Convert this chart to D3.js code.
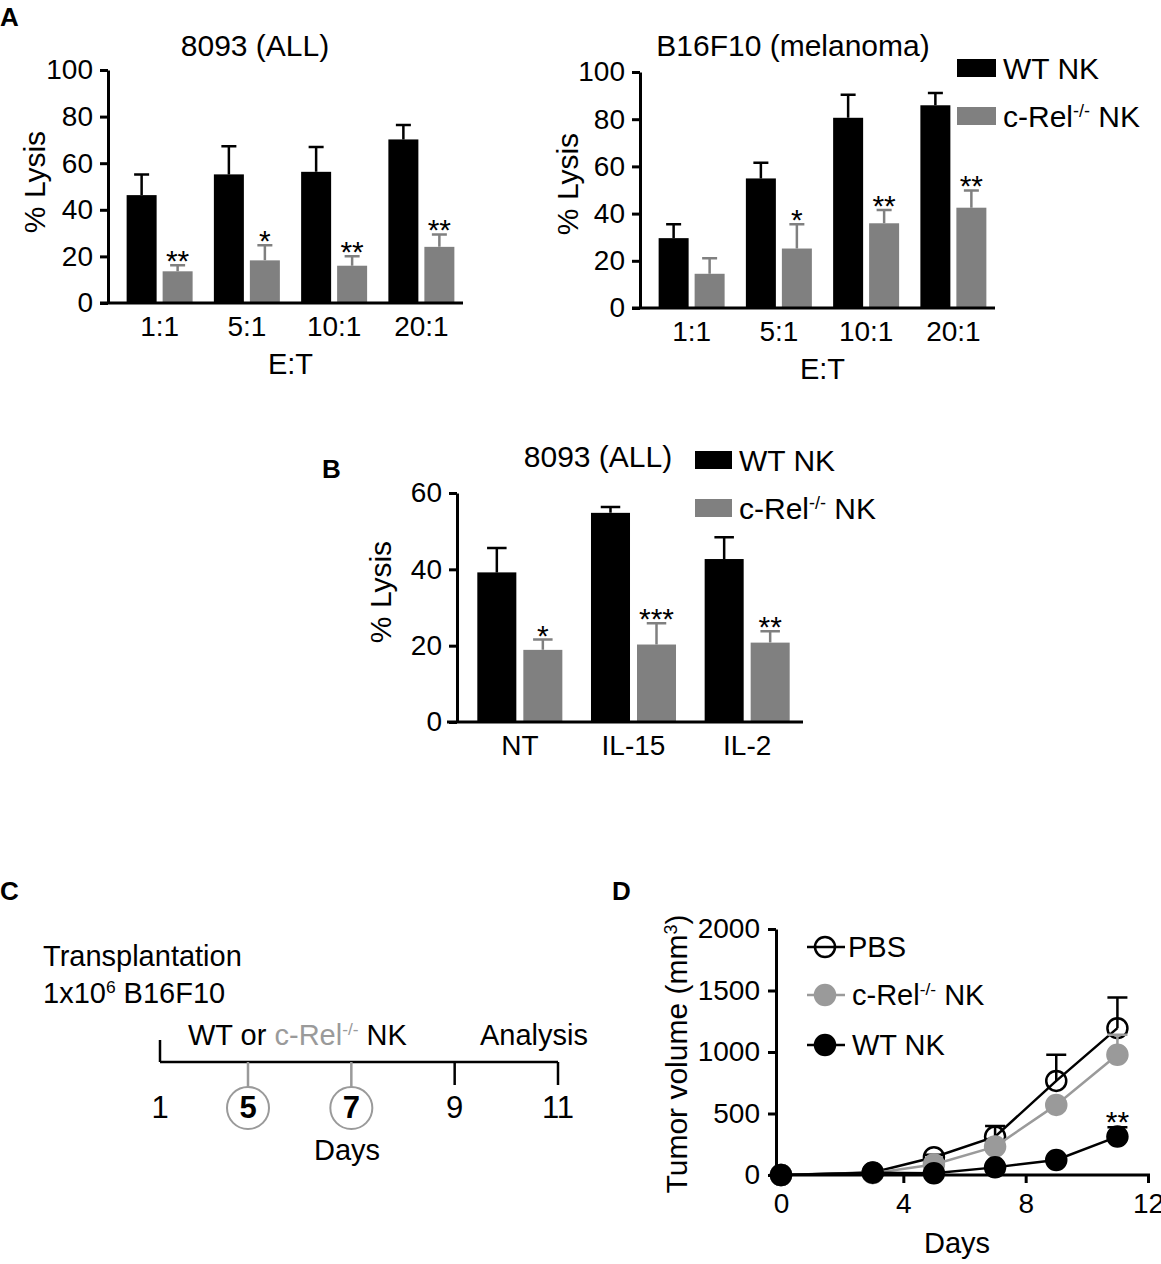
<!DOCTYPE html>
<html>
<head>
<meta charset="utf-8">
<script src="https://cdn.jsdelivr.net/npm/d3@7"></script>
<style>
  body { margin: 0; background: #fff; }
  svg text { font-family: "Liberation Sans", Arial, sans-serif; }
</style>
</head>
<body>
<svg id="fig" width="1161" height="1264"></svg>
<script>
// ---- data ----
const etRatios = ["1:1", "5:1", "10:1", "20:1"];
const allWT = [46.3, 55.2, 56.3, 70.2];
const allWTErr = [8.9, 12.1, 10.7, 6.2];
const allKO = [13.6, 18.3, 16.0, 24.1];
const allKOErr = [2.6, 6.5, 4.1, 5.3];
const allStars = ["**", "*", "**", "**"];

const b16WT = [29.6, 54.9, 80.6, 85.9];
const b16WTErr = [5.9, 6.6, 9.8, 5.2];
const b16KO = [14.5, 25.2, 35.9, 42.5];
const b16KOErr = [6.6, 10.3, 5.6, 7.3];
const b16Stars = ["", "*", "**", "**"];

const cytokines = ["NT", "IL-15", "IL-2"];
const cytWT = [39.2, 54.8, 42.7];
const cytWTErr = [6.4, 1.5, 5.7];
const cytKO = [18.9, 20.3, 20.8];
const cytKOErr = [2.7, 5.6, 3.0];
const cytStars = ["*", "***", "**"];

const lysisTicksA = [0, 20, 40, 60, 80, 100];
const lysisTicksB = [0, 20, 40, 60];

const timelineDays = [1, 5, 7, 9, 11];
const injectionDays = [5, 7];

const tumorDays = [0, 3, 5, 7, 9, 11];
const pbsVol = [0, 20, 144, 312, 765, 1194];
const pbsErr = [0, 0, 20, 87, 212, 250];
const crelVol = [0, 15, 85, 231, 570, 977];
const crelErr = [0, 0, 0, 0, 30, 163];
const wtVol = [0, 19, 14, 62, 122, 312];
const wtErr = [0, 0, 0, 0, 0, 76];
const volTicks = [0, 500, 1000, 1500, 2000];
const dayTicks = [0, 4, 8, 12];

const BLACK = "#000", GREY = "#808080", LIGHT = "#9a9a9a";
const svg = d3.select("#fig");

function styleAxis(g, size) {
  g.attr("font-size", size).attr("font-family", '"Liberation Sans", Arial, sans-serif');
  g.selectAll("path,line").attr("stroke", "#000").attr("stroke-width", 3);
  g.selectAll("text").attr("fill", "#000");
}

function supText(sel, parts) {
  // parts: [text, isSup, color]
  parts.forEach(p => {
    const t = sel.append("tspan").text(p[0]).attr("fill", p[2] || "#000");
    if (p[1]) t.attr("font-size", "0.6em").attr("baseline-shift", "super");
  });
}

function barPanel(o) {
  const g = svg.append("g");
  const y = d3.scaleLinear().domain([0, o.yMax]).range([o.bottom, o.top]);
  const x0 = d3.scaleBand().domain(o.cats).range([o.bandStart, o.bandEnd])
    .paddingInner(o.pad).paddingOuter(o.pad / 2);
  const x1 = d3.scaleBand().domain(["WT", "KO"]).range([0, x0.bandwidth()]).paddingInner(o.subPad);

  const rows = [];
  o.cats.forEach((c, i) => {
    rows.push({cat: c, k: "WT", v: o.wt[i], e: o.wtErr[i], s: ""});
    rows.push({cat: c, k: "KO", v: o.ko[i], e: o.koErr[i], s: o.stars[i]});
  });
  const col = k => (k === "WT" ? BLACK : GREY);
  const bx = d => x0(d.cat) + x1(d.k);
  const bw = x1.bandwidth();

  // error bars (upper only)
  g.selectAll(".err").data(rows).enter().append("path")
    .attr("d", d => {
      const cx = bx(d) + bw / 2, top = y(d.v + d.e);
      return `M${cx},${y(d.v)}V${top}M${cx - bw / 4},${top}H${cx + bw / 4}`;
    })
    .attr("stroke", d => col(d.k)).attr("stroke-width", 2.5).attr("fill", "none");

  g.selectAll(".bar").data(rows).enter().append("rect")
    .attr("x", d => bx(d)).attr("width", bw)
    .attr("y", d => y(d.v)).attr("height", d => y(0) - y(d.v))
    .attr("fill", d => col(d.k));

  g.selectAll(".star").data(rows.filter(d => d.s)).enter().append("text")
    .attr("x", d => bx(d) + bw / 2).attr("y", d => y(d.v + d.e) + 6)
    .attr("text-anchor", "middle").attr("font-size", 30).text(d => d.s);

  const ya = g.append("g").attr("transform", `translate(${o.left},0)`)
    .call(d3.axisLeft(y).tickValues(o.yTicks).tickSize(8).tickPadding(7).tickSizeOuter(0));
  styleAxis(ya, 28);

  g.append("line").attr("x1", o.xStart).attr("x2", o.right)
    .attr("y1", o.bottom).attr("y2", o.bottom)
    .attr("stroke", "#000").attr("stroke-width", 3);

  g.selectAll(".xl").data(o.cats).enter().append("text")
    .attr("x", d => x0(d) + x0.bandwidth() / 2).attr("y", o.bottom + 33)
    .attr("text-anchor", "middle").attr("font-size", 28).text(d => d);

  g.append("text").attr("transform", `translate(${o.yLabelX},${o.yLabelY}) rotate(-90)`)
    .attr("text-anchor", "middle").attr("font-size", 30).text("% Lysis");

  g.append("text").attr("x", o.titleX).attr("y", o.titleY)
    .attr("text-anchor", "middle").attr("font-size", 30).text(o.title);

  if (o.xTitle) {
    g.append("text").attr("x", (o.bandStart + o.bandEnd) / 2).attr("y", o.bottom + 71)
      .attr("text-anchor", "middle").attr("font-size", 29).text(o.xTitle);
  }
  if (o.legend) {
    const L = o.legend;
    [["WT NK", BLACK], ["c-Rel", GREY]].forEach((e, i) => {
      const yy = L.y + i * L.dy;
      g.append("rect").attr("x", L.x).attr("y", yy).attr("width", L.w).attr("height", 18).attr("fill", e[1]);
      const t = g.append("text").attr("x", L.x + L.w + 7).attr("y", yy + 20).attr("font-size", 30);
      if (i === 0) t.text(e[0]);
      else supText(t, [["c-Rel"], ["-/-", true], [" NK"]]);
    });
  }
}

// ---- Panel A ----
barPanel({
  cats: etRatios, wt: allWT, wtErr: allWTErr, ko: allKO, koErr: allKOErr, stars: allStars,
  yMax: 100, yTicks: lysisTicksA, left: 108, xStart: 100, right: 463, top: 70, bottom: 303,
  bandStart: 116, bandEnd: 465, pad: 0.2436, subPad: 1 / 6,
  yLabelX: 45, yLabelY: 182, title: "8093 (ALL)", titleX: 255, titleY: 56, xTitle: "E:T"
});
barPanel({
  cats: etRatios, wt: b16WT, wtErr: b16WTErr, ko: b16KO, koErr: b16KOErr, stars: b16Stars,
  yMax: 100, yTicks: lysisTicksA, left: 640, xStart: 632, right: 995, top: 72, bottom: 308,
  bandStart: 648, bandEnd: 997, pad: 0.2436, subPad: 1 / 6,
  yLabelX: 578, yLabelY: 184, title: "B16F10 (melanoma)", titleX: 793, titleY: 56, xTitle: "E:T",
  legend: {x: 957, y: 59, w: 39, dy: 48}
});

// ---- Panel B ----
barPanel({
  cats: cytokines, wt: cytWT, wtErr: cytWTErr, ko: cytKO, koErr: cytKOErr, stars: cytStars,
  yMax: 60, yTicks: lysisTicksB, left: 457, xStart: 447, right: 803, top: 493, bottom: 722,
  bandStart: 463, bandEnd: 804, pad: 0.252, subPad: 0.152,
  yLabelX: 391, yLabelY: 592, title: "8093 (ALL)", titleX: 598, titleY: 467,
  legend: {x: 695, y: 451, w: 37, dy: 48}
});

// ---- Panel C: timeline ----
const gc = svg.append("g");
const tx = d3.scaleLinear().domain([1, 5, 11]).range([160, 248, 558]);
const lineY = 1062;
gc.append("text").attr("x", 43).attr("y", 966).attr("font-size", 29).text("Transplantation");
supText(gc.append("text").attr("x", 43).attr("y", 1003).attr("font-size", 29),
  [["1x10"], ["6", true], [" B16F10"]]);
supText(gc.append("text").attr("x", 188).attr("y", 1045).attr("font-size", 29),
  [["WT or "], ["c-Rel", false, LIGHT], ["-/-", true, LIGHT], [" NK"]]);
gc.append("text").attr("x", 480).attr("y", 1045).attr("font-size", 29).text("Analysis");
gc.append("line").attr("x1", tx(1)).attr("x2", tx(11)).attr("y1", lineY).attr("y2", lineY)
  .attr("stroke", "#000").attr("stroke-width", 2.5);
gc.selectAll(".tk").data(timelineDays).enter().append("line")
  .attr("x1", d => tx(d)).attr("x2", d => tx(d))
  .attr("y1", lineY).attr("y2", d => (d === 1 ? lineY - 22 : injectionDays.includes(d) ? lineY + 25 : lineY + 23))
  .attr("stroke", d => (injectionDays.includes(d) ? LIGHT : "#000")).attr("stroke-width", 2.5);
gc.selectAll(".ring").data(injectionDays).enter().append("circle")
  .attr("cx", d => tx(d)).attr("cy", 1108).attr("r", 21)
  .attr("fill", "none").attr("stroke", LIGHT).attr("stroke-width", 2);
gc.selectAll(".dl").data(timelineDays).enter().append("text")
  .attr("x", d => tx(d)).attr("y", 1118).attr("text-anchor", "middle")
  .attr("font-size", 31).attr("font-family", '"Liberation Serif", "Times New Roman", serif')
  .attr("font-weight", d => (injectionDays.includes(d) ? "bold" : "normal"))
  .text(d => d);
gc.append("text").attr("x", 347).attr("y", 1160).attr("text-anchor", "middle").attr("font-size", 29).text("Days");

// ---- Panel D: tumour growth ----
const gd = svg.append("g");
const dx = d3.scaleLinear().domain([0, 12]).range([781, 1148]);
const dy = d3.scaleLinear().domain([0, 2000]).range([1175, 929]);
const series = [
  {name: "PBS", vals: pbsVol, err: pbsErr, stroke: BLACK, fill: "none"},
  {name: "c-Rel", vals: crelVol, err: crelErr, stroke: LIGHT, fill: LIGHT},
  {name: "WT NK", vals: wtVol, err: wtErr, stroke: BLACK, fill: BLACK}
];
const line = d3.line().x(d => dx(d.day)).y(d => dy(d.v));
series.forEach(s => {
  const pts = tumorDays.map((day, i) => ({day: day, v: s.vals[i], e: s.err[i]}));
  const sg = gd.append("g");
  sg.selectAll(".eb").data(pts.filter(p => p.e > 0)).enter().append("path")
    .attr("d", p => {
      const cx = dx(p.day), top = dy(p.v + p.e);
      return `M${cx},${dy(p.v)}V${top}M${cx - 10},${top}H${cx + 10}`;
    })
    .attr("stroke", s.stroke).attr("stroke-width", 2.5).attr("fill", "none");
  sg.append("path").datum(pts).attr("d", line)
    .attr("fill", "none").attr("stroke", s.stroke).attr("stroke-width", 2.5);
  sg.selectAll(".pt").data(pts).enter().append("circle")
    .attr("cx", p => dx(p.day)).attr("cy", p => dy(p.v)).attr("r", 10)
    .attr("fill", s.fill).attr("stroke", s.stroke).attr("stroke-width", 2.5);
});
gd.append("text").attr("x", dx(11)).attr("y", dy(wtVol[5] + wtErr[5]) + 5)
  .attr("text-anchor", "middle").attr("font-size", 30).text("**");

const dya = gd.append("g").attr("transform", "translate(776,0)")
  .call(d3.axisLeft(dy).tickValues(volTicks).tickFormat(d3.format("d"))
    .tickSize(8).tickPadding(8).tickSizeOuter(0));
styleAxis(dya, 28);
const dxa = gd.append("g").attr("transform", "translate(0,1175)")
  .call(d3.axisBottom(dx).tickValues(dayTicks).tickSize(8).tickPadding(10));
styleAxis(dxa, 28);
dxa.select(".domain").remove();
gd.append("line").attr("x1", 776).attr("x2", 1150).attr("y1", 1175).attr("y2", 1175)
  .attr("stroke", "#000").attr("stroke-width", 3);

supText(gd.append("text").attr("transform", "translate(687,1054) rotate(-90)")
  .attr("text-anchor", "middle").attr("font-size", 30), [["Tumor volume (mm"], ["3", true], [")"]]);
gd.append("text").attr("x", 957).attr("y", 1253).attr("text-anchor", "middle").attr("font-size", 29).text("Days");

// legend
const legY = [947, 995, 1045];
series.forEach((s, i) => {
  gd.append("line").attr("x1", 807).attr("x2", 845).attr("y1", legY[i]).attr("y2", legY[i])
    .attr("stroke", s.stroke).attr("stroke-width", 2.5);
  gd.append("circle").attr("cx", 825).attr("cy", legY[i]).attr("r", 10)
    .attr("fill", s.fill).attr("stroke", s.stroke).attr("stroke-width", 2.5);
  const t = gd.append("text").attr("x", i === 0 ? 848 : 852).attr("y", legY[i] + 10).attr("font-size", 29);
  if (i === 1) supText(t, [["c-Rel"], ["-/-", true], [" NK"]]);
  else t.text(s.name);
});

// panel letters
[["A", 0, 26], ["B", 322, 478], ["C", 0, 900], ["D", 612, 900]].forEach(l => {
  svg.append("text").attr("x", l[1]).attr("y", l[2]).attr("font-size", 26)
    .attr("font-weight", "bold").text(l[0]);
});
</script>
</body>
</html>
